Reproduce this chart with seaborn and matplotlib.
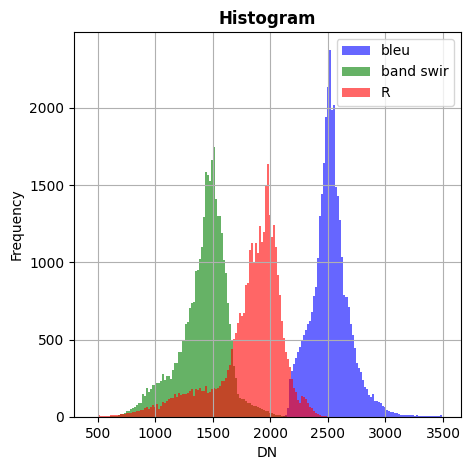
import numpy as np
import pandas as pd
import matplotlib
matplotlib.use("Agg")
import matplotlib.pyplot as plt
import seaborn as sns

# ---- data (histogram counts) ----
bin_width = 17.5

blue_label = "bleu"
blue_start = 2110
blue_counts = [3, 10, 60, 244, 300, 340, 380, 420, 450, 490,
               530, 560, 600, 620, 680, 780, 843, 1030, 1300, 1440,
               1641, 1943, 2137, 2374, 1986, 2018, 1490, 1430, 1273, 1037,
               789, 779, 714, 602, 530, 444, 347, 315, 293, 239,
               192, 179, 142, 131, 149, 106, 101, 99, 91, 69,
               65, 45, 41, 32, 30, 28, 22, 17, 15, 13,
               13, 12, 11, 9, 9, 8, 9, 7, 8, 6,
               7, 5, 4, 6, 3, 4, 3, 3, 11, 2]

green_label = "band swir"
green_start = 500
green_counts = [0, 0, 0, 1, 1, 2, 3, 4, 6, 8,
                13, 16, 20, 26, 35, 41, 50, 55, 63, 80,
                93, 93, 149, 136, 186, 158, 181, 207, 207, 222,
                222, 230, 278, 239, 265, 265, 248, 304, 351, 351,
                422, 420, 490, 602, 615, 707, 740, 744, 944, 950,
                1024, 1097, 1296, 1585, 1568, 1525, 1662, 1749, 1413, 1300,
                1300, 1188, 1016, 934, 740, 600, 500, 330, 250, 150,
                121, 114, 114, 100, 91, 88, 80, 71, 68, 63,
                58, 50, 46, 40, 35, 28, 24, 20, 15, 12,
                9, 6, 4, 3, 2, 1]

red_label = "R"
red_start = 500
red_counts = [9, 5, 3, 6, 4, 6, 10, 11, 12, 11,
              15, 17, 18, 17, 24, 24, 28, 32, 33, 35,
              38, 45, 45, 56, 63, 50, 67, 78, 63, 84,
              50, 71, 99, 90, 104, 114, 125, 120, 149, 131,
              153, 142, 145, 149, 153, 170, 183, 136, 179, 175,
              187, 166, 170, 200, 157, 162, 179, 187, 183, 190,
              200, 235, 231, 250, 304, 334, 437, 502, 545, 606,
              675, 653, 675, 854, 869, 1080, 1128, 994, 1128, 1059,
              1236, 1134, 1197, 1503, 1637, 1307, 1167, 1240, 1102, 918,
              789, 623, 509, 420, 373, 320, 244, 186, 164, 110,
              88, 136, 132, 114, 88, 67, 56, 41, 28, 19,
              13, 8, 5, 3]

series = [
    (blue_label, blue_start, blue_counts, "blue"),
    (green_label, green_start, green_counts, "green"),
    (red_label, red_start, red_counts, "red"),
]

fig = plt.figure(figsize=(4.71, 4.70), dpi=100)
ax = fig.add_axes([0.157, 0.113, 0.822, 0.819])

for label, start, counts, color in series:
    counts = np.asarray(counts, dtype=float)
    edges = start + bin_width * np.arange(len(counts) + 1)
    centers = (edges[:-1] + edges[1:]) / 2
    df = pd.DataFrame({"DN": centers, "count": counts})
    sns.histplot(data=df, x="DN", weights="count", bins=edges.tolist(),
                 color=color, alpha=0.6, linewidth=0, label=label, ax=ax)

ax.set_xlim(291, 3658)
ax.set_ylim(0, 2492)
ax.set_title("Histogram", fontweight="bold", fontsize=12)
ax.set_xlabel("DN")
ax.set_ylabel("Frequency")
ax.grid(True)
ax.legend(loc="upper right")

fig.savefig("out.png", dpi=100)
